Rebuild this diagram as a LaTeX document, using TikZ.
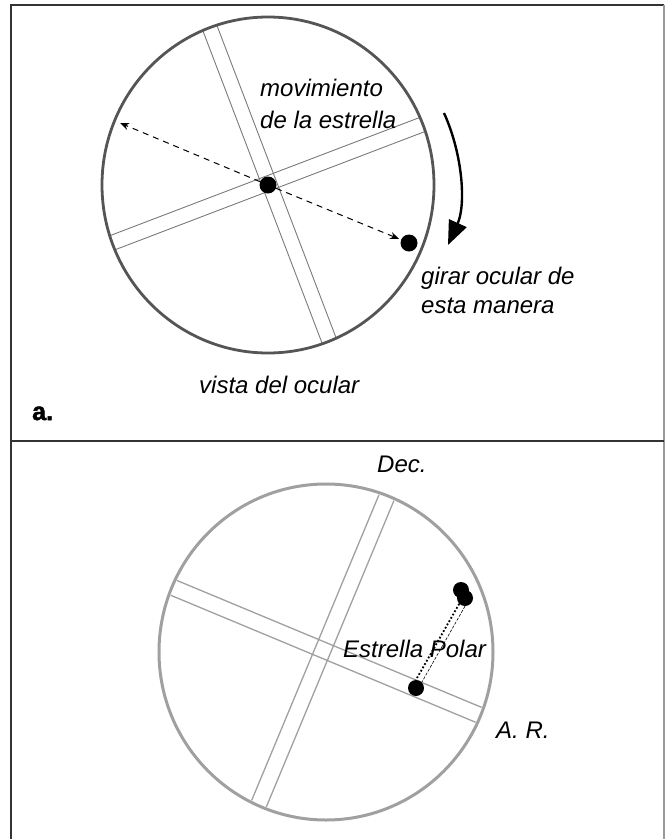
\documentclass[tikz,border=0pt]{standalone}
\usepackage{fontspec}
\setmainfont{Liberation Sans}
\newfontfamily\heavyfont[FakeBold=2]{Liberation Sans Bold}
\usetikzlibrary{arrows.meta}
\definecolor{framec}{HTML}{333333}
\definecolor{framer}{HTML}{9A9A9A}
\definecolor{circa}{HTML}{555555}
\definecolor{crossa}{HTML}{7A7A7A}
\definecolor{circb}{HTML}{A0A0A0}
\definecolor{crossb}{HTML}{A0A0A0}
\tikzset{
  framel/.style={draw=framec, line width=1.6pt},
  dotnode/.style={circle, fill=black, inner sep=0pt, minimum size=17pt},
  smalldot/.style={circle, fill=black, inner sep=0pt, minimum size=16pt},
  dasharrow/.style={dashed, dash pattern=on 6pt off 5pt, line width=1pt, -{Stealth[length=9pt,width=7pt]}},
  rotarrow/.style={line width=2.4pt, -{Triangle[length=24pt,width=19pt]}},
  crossla/.style={draw=crossa, line width=0.9pt},
  crosslb/.style={draw=crossb, line width=1.3pt},
  lbl/.style={inner sep=0pt, anchor=base west, font=\fontsize{24}{28}\selectfont\itshape},
  tag/.style={inner sep=0pt, anchor=base west, font=\fontsize{25}{28}\selectfont\heavyfont}
}
\begin{document}
\begin{tikzpicture}[x=1pt,y=-1pt]
\useasboundingbox (0,0) rectangle (665,839);
% frame
\draw[framel] (11,839) -- (11,5) -- (664,5);
\draw[draw=framer, line width=1.6pt] (664,5) -- (664,839);
\draw[framel, line width=1.9pt] (11,441) -- (664,441);

% ---------- panel a ----------
\begin{scope}
  \clip (268,185) ellipse [x radius=165, y radius=167];
  \draw[crossla] (204.7,-6.6) -- (347.3,367.2);
  \draw[crossla] (190.7,-1.2) -- (333.3,372.6);
  \draw[crossla] (84.8,261.3) -- (458.6,118.7);
  \draw[crossla] (79.4,247.3) -- (453.2,104.7);
\end{scope}
\draw[draw=circa, line width=2.8pt] (268,185) ellipse [x radius=166, y radius=168];

\node[dotnode] (s0) at (268,185) {};
\node[dotnode] (s1) at (409,243) {};
\coordinate (L) at (120,123);
\draw[dasharrow] (s0) -- (L);
\draw[dasharrow, shorten >=2pt] (s0) -- (s1);

\coordinate (r1) at (444,113);
\coordinate (r2) at (448,245);
\draw[rotarrow] (r1) .. controls (463,155) and (466,205) .. (r2);

\node[lbl] (m1) at (260,96) {movimiento};
\node[lbl] (m2) at (260,128) {de la estrella};
\node[lbl] (g1) at (421,284) {girar ocular de};
\node[lbl] (g2) at (421,313) {esta manera};
\node[lbl] (v1) at (199,393) {vista del ocular};
\node[tag] (ta) at (32,420) {a.};

% ---------- panel b ----------
\begin{scope}
  \clip (326,652) ellipse [x radius=165, y radius=166];
  \draw[crosslb] (407.3,468.5) -- (253.5,837.7);
  \draw[crosslb] (392.5,462.3) -- (238.7,831.5);
  \draw[crosslb] (135.3,580.5) -- (504.5,734.3);
  \draw[crosslb] (141.5,565.7) -- (510.7,719.5);
\end{scope}
\draw[draw=circb, line width=3pt] (326,652) ellipse [x radius=167, y radius=168];

\node[smalldot] (p1) at (461,590) {};
\node[smalldot] (p2) at (465,598) {};
\node[smalldot] (p0) at (416,688) {};
\draw[line width=1.8pt, dotted] (p2.south west) -- (p0.north);
\draw[line width=0.6pt, dashed, dash pattern=on 3pt off 1.5pt] (p2.south) -- (p0.north east);

\node[lbl] (ep) at (343,657) {Estrella Polar};
\node[lbl] (dec) at (377,472) {Dec.};
\node[lbl] (ar) at (496,738) {A. R.};
\end{tikzpicture}
\end{document}
